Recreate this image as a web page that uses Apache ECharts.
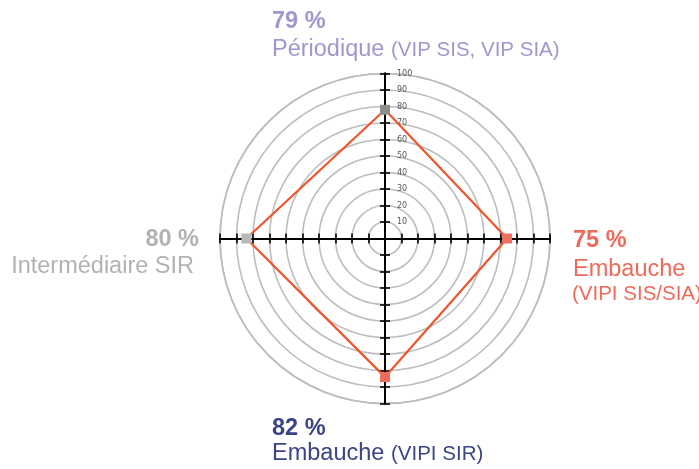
<!DOCTYPE html>
<html>
<head>
<meta charset="utf-8">
<script src="https://cdn.jsdelivr.net/npm/echarts@6/dist/echarts.min.js"></script>
<style>
html,body{margin:0;padding:0;background:#fff;}
#c{width:699px;height:469px;}
</style>
</head>
<body>
<div id="c"></div>
<script>
// Data
var categories = ['Périodique', 'Embauche (VIPI SIS/SIA)', 'Embauche (VIPI SIR)', 'Intermédiaire SIR'];
var values = [78, 74, 84, 84];
var percentLabels = ['79 %', '75 %', '82 %', '80 %'];
var tickValues = [10, 20, 30, 40, 50, 60, 70, 80, 90, 100];

// Styles
var markerColors = ['#8d8e88', '#f0705f', '#ef6b5c', '#b8b8b8'];
var FONT = '"Liberation Sans", Arial, Helvetica, sans-serif';

var chart = echarts.init(document.getElementById('c'), null, {renderer: 'canvas'});

// each category sits on its own spoke, evenly spaced around the circle
var step = 360 / categories.length;
var lineData = categories.map(function (c, i) {
  return {name: c, value: [values[i], i * step], itemStyle: {color: markerColors[i]}};
});
lineData.push({name: categories[0], value: [values[0], categories.length * step], symbol: 'none'});

function txt(text, x, y, size, color, bold, align) {
  return {
    type: 'text', x: x, y: y, z: 10,
    style: {
      text: text, fill: color,
      font: (bold ? 'bold ' : '') + size + 'px ' + FONT,
      align: align || 'left', verticalAlign: 'middle'
    }
  };
}

var cx = 385, cy = 238.5, R = 165;
var axisBase = {
  type: 'value', min: -100, max: 100, interval: 10,
  axisLine: {onZero: false, lineStyle: {color: '#000', width: 2}},
  axisTick: {show: true, length: 5, lineStyle: {color: '#000', width: 1.6}},
  axisLabel: {show: false},
  splitLine: {show: false},
  z: 5
};

var option = {
  animation: false,
  backgroundColor: '#fff',
  polar: {center: [cx, cy], radius: R},
  angleAxis: {
    type: 'value', min: 0, max: 360, interval: step,
    startAngle: 90, clockwise: true,
    axisLine: {show: true, lineStyle: {color: '#bdbdbd', width: 1.6}},
    axisTick: {show: false}, axisLabel: {show: false}, splitLine: {show: false},
    z: 1
  },
  radiusAxis: {
    min: 0, max: 100, interval: 10,
    axisLine: {show: false}, axisTick: {show: false}, axisLabel: {show: false},
    splitLine: {show: true, lineStyle: {color: '#bdbdbd', width: 1.6}},
    z: 1
  },
  grid: {left: cx - R, top: cy - R, width: 2 * R, height: 2 * R},
  xAxis: [
    Object.assign({}, axisBase, {position: 'bottom', offset: -R}),
    Object.assign({}, axisBase, {position: 'top', offset: -R})
  ],
  yAxis: [
    Object.assign({}, axisBase, {position: 'left', offset: -R}),
    Object.assign({}, axisBase, {
      position: 'right', offset: -R,
      axisLabel: {
        show: true, margin: 12, color: '#555', fontSize: 8,
        fontFamily: '"DejaVu Sans", sans-serif',
        formatter: function (v) { return tickValues.indexOf(v) >= 0 ? String(v) : ''; }
      }
    })
  ],
  series: [{
    type: 'line', coordinateSystem: 'polar',
    data: lineData,
    symbol: 'rect', symbolSize: 10,
    lineStyle: {color: '#f0552a', width: 2.2},
    z: 20
  }],
  graphic: [
    txt(percentLabels[0], 272, 22, 23.5, '#9d99cf', true),
    txt('Périodique', 272, 49.5, 23.5, '#9d99cf', false),
    txt('(VIP SIS, VIP SIA)', 391, 50.5, 20.5, '#9d99cf', false),

    txt(percentLabels[1], 573, 240.5, 23.5, '#ef6a5a', true),
    txt('Embauche', 573, 269.5, 23.5, '#ef6a5a', false),
    txt('(VIPI SIS/SIA)', 572, 294.5, 20.5, '#ef6a5a', false),

    txt(percentLabels[3], 199, 239.5, 23.5, '#b2b2b2', true, 'right'),
    txt('Intermédiaire SIR', 194, 266.5, 23.5, '#b2b2b2', false, 'right'),

    txt(percentLabels[2], 272, 428.5, 23.5, '#3b4487', true),
    txt('Embauche', 272, 453.5, 23.5, '#3b4487', false),
    txt('(VIPI SIR)', 391, 454.5, 20.5, '#3b4487', false)
  ]
};
chart.setOption(option);
</script>
</body>
</html>
